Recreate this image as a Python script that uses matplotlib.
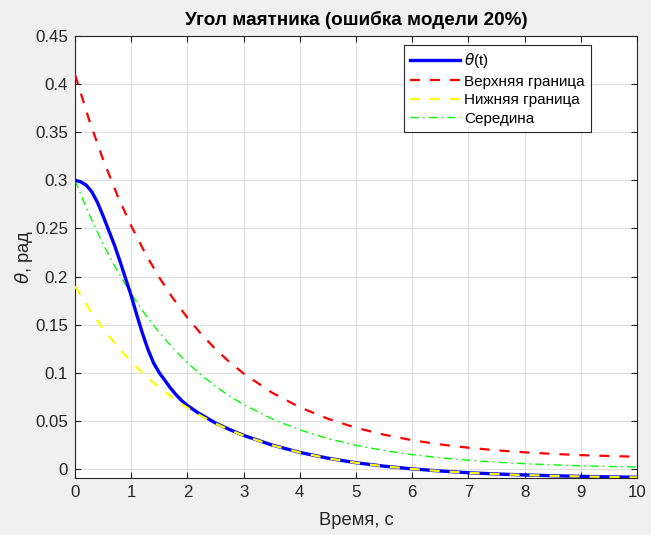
import matplotlib
matplotlib.use('Agg')
import matplotlib.pyplot as plt
from matplotlib.ticker import FuncFormatter

# values
t = [0, 0.25, 0.5, 0.75, 1.0, 1.25, 1.5, 1.75, 2.0, 2.25, 2.5, 2.75, 3.0,
     3.5, 4.0, 4.5, 5.0, 5.5, 6.0, 6.5, 7.0, 7.5, 8.0, 8.5, 9.0, 9.5, 10.0]
upper = [0.410, 0.363, 0.3215, 0.2849, 0.2526, 0.2241, 0.1990, 0.1768, 0.1572, 0.1399, 0.1246, 0.1111, 0.0992,
         0.0795, 0.0641, 0.0522, 0.0428, 0.0356, 0.0299, 0.0255, 0.0221, 0.0194, 0.0173, 0.0157,
         0.0144, 0.0135, 0.0127]
lower = [0.190, 0.1665, 0.1458, 0.1275, 0.1113, 0.0971, 0.0845, 0.0734, 0.0636, 0.0549, 0.0473, 0.0406, 0.0346,
         0.0248, 0.0171, 0.0111, 0.0064, 0.0028, 0.0000, -0.0022, -0.0040, -0.0053, -0.0063, -0.0071,
         -0.0078, -0.0083, -0.0087]
middle = [0.300, 0.2648, 0.2336, 0.2062, 0.1820, 0.1606, 0.1417, 0.1251, 0.1104, 0.0974, 0.0860, 0.0758, 0.0669,
          0.0521, 0.0406, 0.0316, 0.0246, 0.0192, 0.0149, 0.0116, 0.0091, 0.0071, 0.0055, 0.0043,
          0.0033, 0.0026, 0.0020]

# theta(t) read more densely where it bends
t_theta = [0, 0.1, 0.2, 0.3, 0.4, 0.5, 0.6, 0.7, 0.8, 0.9, 1.0, 1.1, 1.2, 1.3, 1.4, 1.5, 1.6, 1.7, 1.8,
           1.9, 2.0, 2.1, 2.2, 2.5, 2.75, 3.0, 3.5, 4.0, 4.5, 5.0, 5.5, 6.0, 6.5, 7.0, 7.5, 8.0, 8.5,
           9.0, 9.5, 10.0]
theta = [0.300, 0.2985, 0.295, 0.288, 0.277, 0.263, 0.248, 0.233, 0.216, 0.198, 0.180, 0.160, 0.141,
         0.124, 0.110, 0.100, 0.092, 0.084, 0.077, 0.071, 0.066, 0.062, 0.058, 0.0478, 0.0410, 0.0349,
         0.0250, 0.0172, 0.0112, 0.0065, 0.0029, 0.0001, -0.0021, -0.0039, -0.0052, -0.0062, -0.0070,
         -0.0077, -0.0082, -0.0086]

x_ticks = list(range(0, 11))
y_ticks = [0, 0.05, 0.1, 0.15, 0.2, 0.25, 0.3, 0.35, 0.4, 0.45]

plt.rcParams['font.family'] = ['Liberation Sans', 'DejaVu Sans']
plt.rcParams['mathtext.fontset'] = 'dejavusans'

fig = plt.figure(figsize=(6.51, 5.35), dpi=100, facecolor='#f0f0f0')
ax = fig.add_axes([0.1152, 0.1065, 0.8633, 0.8262])
ax.set_facecolor('white')

ax.plot(t_theta, theta, color='#0000ff', lw=2.4, label=r'$\theta$(t)', zorder=4)
ax.plot(t, upper, color='#ff0000', lw=1.6, dashes=(4.5, 4.5), label='Верхняя граница', zorder=3)
ax.plot(t, lower, color='#ffff00', lw=1.6, dashes=(4.5, 4.5), label='Нижняя граница', zorder=5)
ax.plot(t, middle, color='#00ff00', lw=1.0, dashes=(6, 3, 1.2, 3), label='Середина', zorder=3)

ax.set_xlim(0, 10)
ax.set_ylim(-0.0094, 0.45)
ax.set_xticks(x_ticks)
ax.set_yticks(y_ticks)
ax.yaxis.set_major_formatter(FuncFormatter(lambda v, p: '%g' % v))
ax.tick_params(direction='in', length=4, width=0.8, colors='#262626', labelsize=12.2,
               top=True, right=True, pad=5)
ax.grid(True, color='#dedede', lw=0.8)
ax.set_axisbelow(True)
for s in ax.spines.values():
    s.set_color('#262626')
    s.set_linewidth(0.8)

ax.set_title('Угол маятника (ошибка модели 20%)', fontsize=13.6, fontweight='bold', color='black', pad=8)
ax.set_xlabel('Время, с', fontsize=13.2, color='#262626', labelpad=9)
ax.set_ylabel(r'$\theta$, рад', fontsize=13.2, color='#262626', labelpad=0)

leg = ax.legend(loc='upper right', bbox_to_anchor=(0.918, 0.98), fontsize=11, handlelength=3.3,
                handletextpad=0.26, labelspacing=0.3, borderpad=0.4, fancybox=False, framealpha=1,
                edgecolor='#262626', borderaxespad=0)
leg.get_frame().set_linewidth(0.8)

fig.savefig('out.png', dpi=100, facecolor=fig.get_facecolor())
